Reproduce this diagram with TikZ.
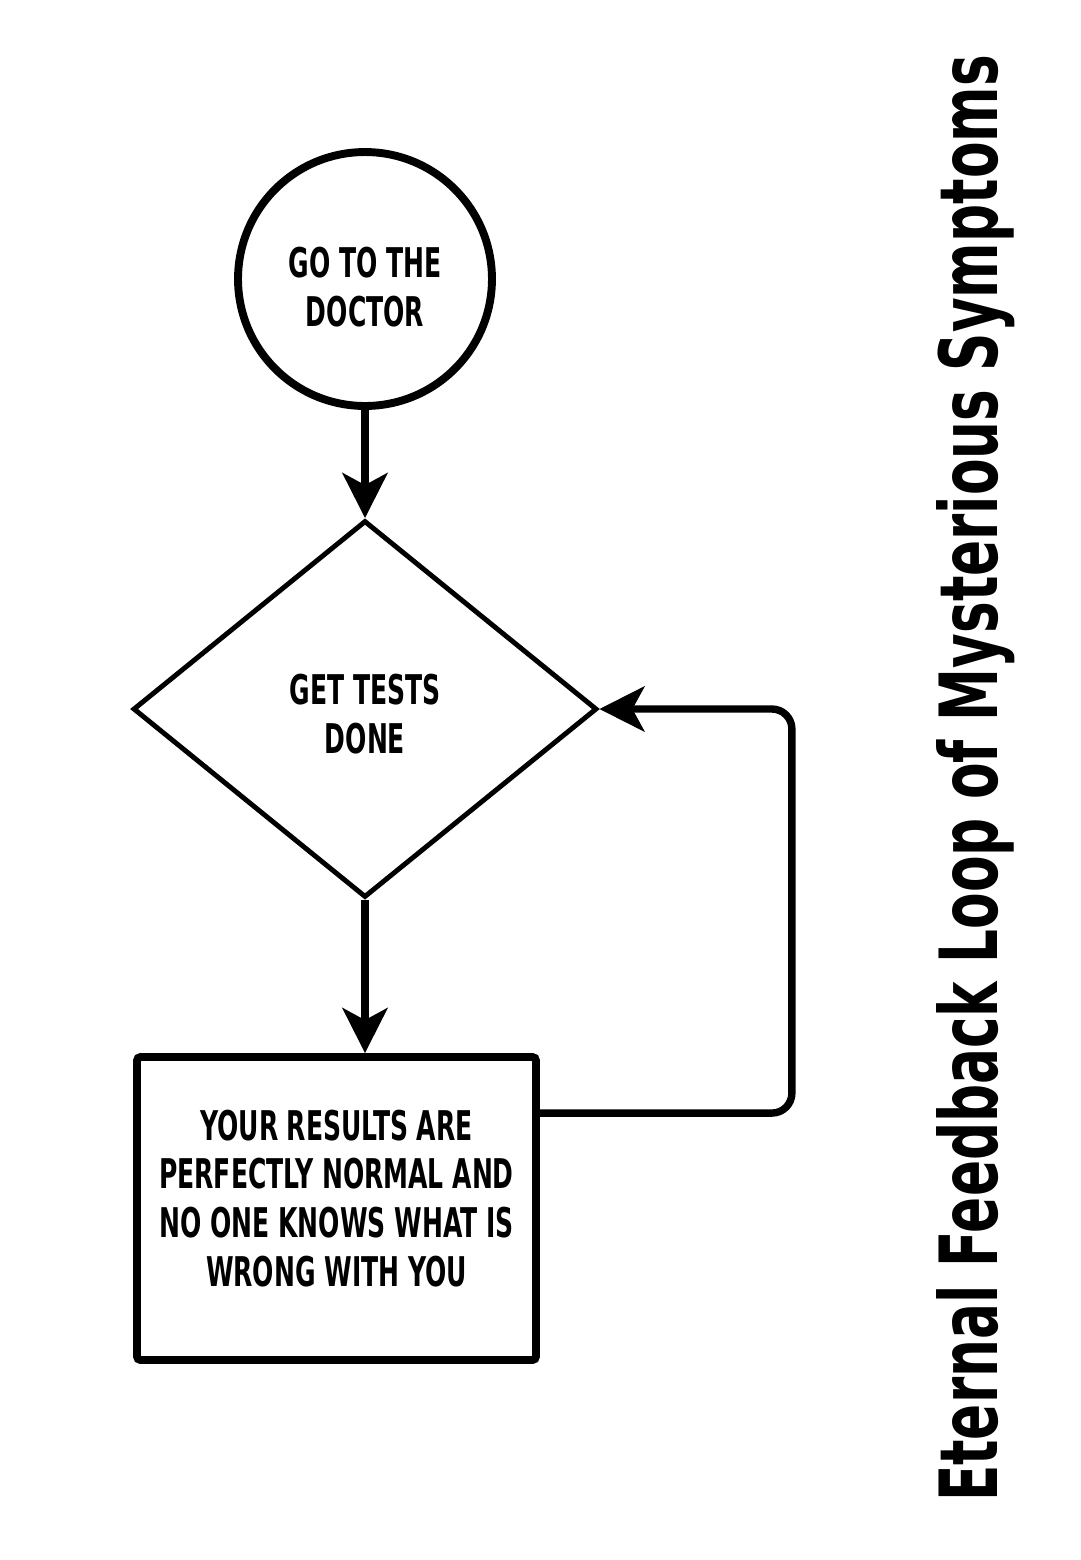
\documentclass[tikz,border=0pt]{standalone}
\usepackage{fontspec}
\usepackage{graphicx}
\setmainfont{DejaVu Sans Condensed}[BoldFont={DejaVu Sans Condensed Bold}]
\usetikzlibrary{shapes.geometric,arrows.meta}
\newcommand{\narrow}[2][0cm]{\raisebox{#1}[\height][\depth]{\scalebox{0.68}[1]{\begin{tabular}{@{}c@{}}#2\end{tabular}}}}

\begin{document}
\begin{tikzpicture}[x=0.02cm,y=-0.02cm,
	label/.style={font=\bfseries\fontsize{23.3}{27.8}\selectfont,align=center,inner sep=0pt},
	flow/.style={line width=4.2pt,-{Stealth[length=0.9cm,width=0.9cm,inset=0.24cm]}}]
			\useasboundingbox (0,0) rectangle (1080,1560);
			\node[draw,circle,line width=4.5pt,minimum size=5.08cm,label] (doctor) at (365,279) {\narrow[-0.26cm]{GO TO THE\\DOCTOR}};
			\node[draw,diamond,aspect=1.23,line width=2.8pt,minimum width=9.28cm,minimum height=7.54cm,label] (tests) at (365,709) {\narrow[-0.2cm]{GET TESTS\\DONE}};
			\node[draw,rectangle,line width=4.5pt,rounded corners=2pt,minimum width=7.98cm,minimum height=6.06cm,label] (results) at (336.5,1208.5) {\narrow[0.1cm]{YOUR RESULTS ARE\\PERFECTLY NORMAL AND\\NO ONE KNOWS WHAT IS\\WRONG WITH YOU}};
			\node[rotate=90,anchor=base,inner sep=0pt,font=\bfseries] (title) at (997,778.5) {\resizebox{28.94cm}{1.22cm}{Eternal Feedback Loop of Mysterious Symptoms}};
			\draw[flow] (doctor) to (tests);
			\draw[flow] (tests.south) to (tests.south |- results.north);
			\draw[flow,rounded corners=0.4cm] ([yshift=-1.2cm]results.north east) -- ++(252,0) |- (tests.east);
		\end{tikzpicture}
\end{document}
